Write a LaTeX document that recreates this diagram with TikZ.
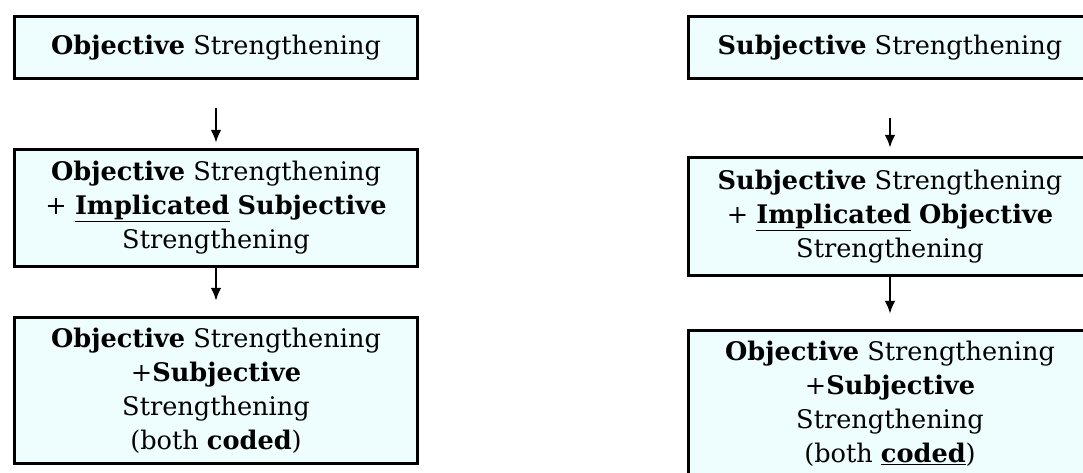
\documentclass[tikz,border=0pt]{standalone}
\usepackage{fontspec}
\setmainfont{DejaVu Serif}
\usepackage{tikz}
\usetikzlibrary{arrows.meta}
\definecolor{boxfill}{RGB}{238,253,253}
\newcommand{\ob}{\textbf{Objective}}
\newcommand{\sj}{\textbf{Subjective}}
\newcommand{\imp}{\underline{\textbf{Implicated}}}

\begin{document}
\begin{tikzpicture}[x=1pt, y=-1pt,
  box/.style={draw, line width=3.5pt, fill=boxfill, align=center, minimum width=403pt,
    inner sep=0pt, font=\fontsize{25.6}{34}\selectfont},
  link/.style={-{Latex[length=13pt,width=11pt]}, line width=2.5pt}]
  \useasboundingbox (0,0) rectangle (1083,472);
  \clip (0,0) rectangle (1083,472);
  % left column
  \node[box, minimum height=62pt] (os) at (216,47.5) {\ob{} Strengthening};
  \node[box, minimum height=117pt] (osis) at (216,208) {\ob{} Strengthening\\+ \imp{} \sj\\Strengthening};
  \node[box, minimum height=146pt] (lboth) at (216,390.5) {\ob{} Strengthening\\+\sj\\Strengthening\\(both \textbf{coded})};
  % right column
  \node[box, minimum height=62pt] (ss) at (890,47.5) {\sj{} Strengthening};
  \node[box, minimum height=118pt] (ssio) at (890,216.5) {\sj{} Strengthening\\+ \imp{} \ob\\Strengthening};
  \node[box, minimum height=146pt] (rboth) at (890,403.5) {\ob{} Strengthening\\+\sj\\Strengthening\\(both \underline{\textbf{coded}})};
  \draw[link, shorten <=28pt, shorten >=5pt] (os) -- (osis);
  \draw[link, shorten >=15pt] (osis) -- (lboth);
  \draw[link, shorten <=38pt, shorten >=8pt] (ss) -- (ssio);
  \draw[link, shorten >=15pt] (ssio) -- (rboth);
\end{tikzpicture}
\end{document}
